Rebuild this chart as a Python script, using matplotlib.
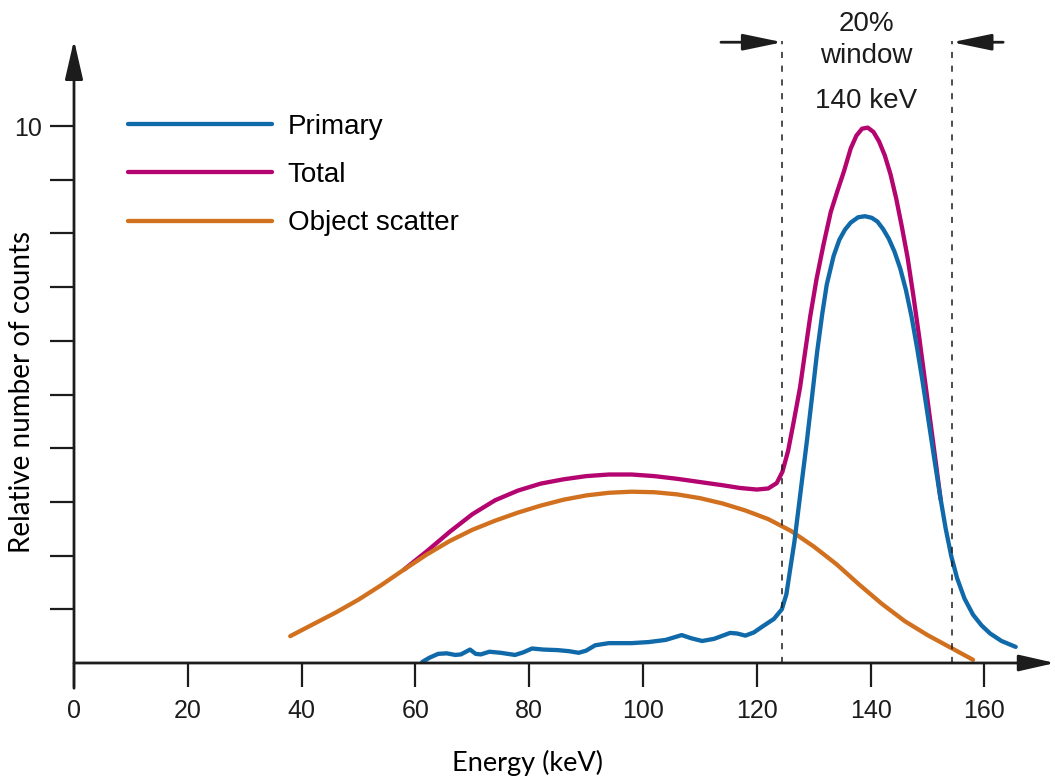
import matplotlib.pyplot as plt

plt.rcParams['font.family'] = ['Liberation Sans', 'DejaVu Sans']

# energy (keV) and relative counts
scatter_x = [38, 42, 46, 50, 54, 58, 62, 66, 70, 74, 78, 82, 86, 90, 94, 98,
             102, 106, 110, 114, 118, 122, 126, 130, 134, 138, 142, 146, 150,
             154, 158]
scatter_y = [0.50, 0.72, 0.94, 1.18, 1.45, 1.74, 2.02, 2.27, 2.48, 2.65, 2.80,
             2.93, 3.04, 3.12, 3.17, 3.19, 3.18, 3.14, 3.07, 2.97, 2.84, 2.68,
             2.46, 2.17, 1.84, 1.46, 1.10, 0.78, 0.52, 0.29, 0.06]

total_x = [58, 62, 66, 70, 74, 78, 82, 86, 90, 94, 98, 102, 106, 110, 114, 117,
           120, 122, 123.5, 124.5, 125.5, 126.5, 127.6, 128.5, 129.4, 130.5,
           131.7, 133, 134.2, 135.3, 136.5, 137.5, 138.5, 139.5, 140.5, 141.5,
           142.5, 143.5, 144.5, 145.5, 146.5, 147.5, 148.5, 149.5, 150.5,
           151.5, 152.3]
total_y = [1.74, 2.08, 2.44, 2.77, 3.03, 3.21, 3.34, 3.42, 3.48, 3.51, 3.51,
           3.48, 3.43, 3.37, 3.31, 3.26, 3.23, 3.25, 3.35, 3.56, 3.95, 4.50,
           5.13, 5.80, 6.46, 7.15, 7.78, 8.40, 8.80, 9.15, 9.58, 9.82, 9.95,
           9.97, 9.89, 9.71, 9.45, 9.10, 8.65, 8.12, 7.55, 6.85, 6.10, 5.30,
           4.50, 3.70, 3.05]

primary_x = [61.2, 62.5, 64, 65.5, 67, 68, 69.6, 70.6, 71.5, 73, 75, 77.5, 79,
             80.5, 82.5, 85, 87, 88.7, 90, 91.6, 94, 98, 101, 104, 106.8, 108.5,
             110.4, 112.5, 115.3, 116.5, 118, 119.5, 121, 123, 124.4, 125.2,
             125.8, 126.6, 127.3, 128, 128.8, 129.7, 130.6, 131.5, 132.3, 133.5,
             134.5, 135.5, 136.5, 137.8, 139, 140.2, 141.2, 142.2, 143.2, 144.2,
             145.2, 146.2, 147.2, 148.2, 149.2, 150.2, 151.2, 152.2, 153.2,
             154.2, 155.2, 156.5, 158, 159.5, 161, 163, 165.5]
primary_y = [0.02, 0.10, 0.17, 0.18, 0.15, 0.16, 0.25, 0.17, 0.16, 0.21, 0.19,
             0.15, 0.20, 0.27, 0.25, 0.24, 0.22, 0.19, 0.23, 0.33, 0.37, 0.37,
             0.39, 0.43, 0.52, 0.46, 0.41, 0.45, 0.56, 0.55, 0.51, 0.57, 0.68,
             0.82, 1.00, 1.28, 1.70, 2.25, 2.85, 3.45, 4.13, 4.95, 5.79, 6.50,
             7.05, 7.58, 7.88, 8.07, 8.20, 8.30, 8.32, 8.29, 8.22, 8.08, 7.90,
             7.66, 7.35, 6.95, 6.45, 5.85, 5.20, 4.50, 3.80, 3.12, 2.50, 1.98,
             1.58, 1.20, 0.90, 0.70, 0.55, 0.41, 0.30]

window_edges = [124.5, 154.3]
xticks = [0, 20, 40, 60, 80, 100, 120, 140, 160]
yticks = [1, 2, 3, 4, 5, 6, 7, 8, 9, 10]

c_primary = '#106aa9'
c_total = '#b4046f'
c_scatter = '#d1711f'
ink = '#1c1c1c'

fig = plt.figure(figsize=(10.55, 7.76), dpi=100)
ax = fig.add_axes([74 / 1055, 113 / 776, 981 / 1055, 11.6 * 53.7 / 776])
ax.set_xlim(0, 981 / 5.69)
ax.set_ylim(0, 11.6)
for s in ax.spines.values():
    s.set_visible(False)

lt, = ax.plot(total_x, total_y, color=c_total, lw=3.1, solid_capstyle='round',
              solid_joinstyle='round', label='Total')
ls, = ax.plot(scatter_x, scatter_y, color=c_scatter, lw=3.1,
              solid_capstyle='round', solid_joinstyle='round',
              label='Object scatter')
lp, = ax.plot(primary_x, primary_y, color=c_primary, lw=3.1,
              solid_capstyle='round', solid_joinstyle='round', label='Primary')

# energy window
ax.vlines(window_edges, 0, 11.58, colors=ink, linestyles=(0, (4, 5)), lw=1.1)
ax.annotate('', xy=(window_edges[0], 11.56), xytext=(113.7, 11.56),
            arrowprops=dict(arrowstyle='-|>,head_length=2.4,head_width=0.5',
                            color=ink, lw=2, shrinkA=0, shrinkB=0),
            annotation_clip=False)
ax.annotate('', xy=(window_edges[1], 11.56), xytext=(163.3, 11.56),
            arrowprops=dict(arrowstyle='-|>,head_length=2.4,head_width=0.5',
                            color=ink, lw=2, shrinkA=0, shrinkB=0),
            annotation_clip=False)
ax.text(139.2, 11.9, '20%', ha='center', va='center', fontsize=20,
        color=ink, clip_on=False)
ax.text(139.2, 11.3, 'window', ha='center', va='center', fontsize=20,
        color=ink, clip_on=False)
ax.text(139.2, 10.47, '140 keV', ha='center', va='center', fontsize=20,
        color=ink)

# axes drawn as arrows
ax.annotate('', xy=(981 / 5.69, 0), xytext=(0, 0),
            arrowprops=dict(arrowstyle='-|>,head_length=2.2,head_width=0.5',
                            color=ink, lw=2, shrinkA=0, shrinkB=0),
            annotation_clip=False)
ax.annotate('', xy=(0, 11.6), xytext=(0, -0.47),
            arrowprops=dict(arrowstyle='-|>,head_length=2.4,head_width=0.55',
                            color=ink, lw=2, shrinkA=0, shrinkB=0),
            annotation_clip=False)

ax.set_xticks(xticks)
ax.set_xticklabels([str(v) for v in xticks])
ax.set_yticks(yticks)
ax.set_yticklabels([''] * 9 + ['10'])
ax.tick_params(axis='both', direction='out', length=17, width=1.6,
               color=ink, labelcolor=ink, labelsize=18)
ax.tick_params(axis='x', pad=9)
ax.tick_params(axis='y', pad=6)

fig.text(527 / 1055, 1 - 763 / 776, 'Energy (keV)', family='Lato',
         fontsize=19.5, ha='center', va='center')
fig.text(22 / 1055, 1 - 392 / 776, 'Relative number of counts', family='Lato',
         fontsize=20, ha='center', va='center', rotation=90)

ax.legend(handles=[lp, lt, ls], loc='upper left',
          bbox_to_anchor=(128 / 1055, 1 - 114 / 776),
          bbox_transform=fig.transFigure, frameon=False, fontsize=20,
          handlelength=5.2, handletextpad=0.55, labelspacing=0.8,
          borderpad=0, borderaxespad=0)

fig.savefig('out.png', dpi=100)
